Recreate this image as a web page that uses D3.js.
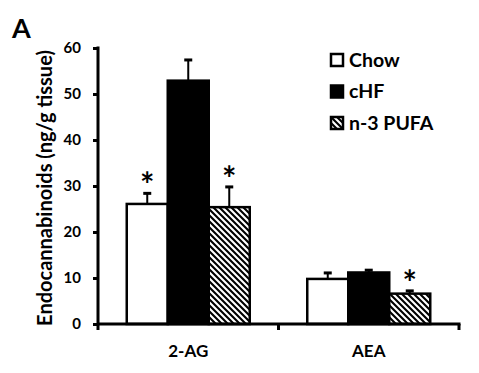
<!DOCTYPE html>
<html>
<head>
<meta charset="utf-8">
<script src="https://d3js.org/d3.v7.min.js"></script>
<style>
  body { margin: 0; background: white; }
  text { font-family: Lato, "Open Sans", sans-serif; font-weight: bold; fill: black; }
</style>
</head>
<body>
<svg id="chart" width="479" height="373"></svg>
<script>
// data
var categories = ["2-AG", "AEA"];
var groups = ["Chow", "cHF", "n-3 PUFA"];
var means = {
    "Chow":     [26.1, 9.8],
    "cHF":      [52.9, 11.2],
    "n-3 PUFA": [25.4, 6.6]
};
var errors = {
    "Chow":     [2.3, 1.3],
    "cHF":      [4.5, 0.5],
    "n-3 PUFA": [4.4, 0.6]
};
// significance stars (true = *)
var stars = {
    "Chow":     [true, false],
    "cHF":      [false, false],
    "n-3 PUFA": [true, true]
};
var yTicks = [0, 10, 20, 30, 40, 50, 60];

var svg = d3.select("#chart");

var mLeft = 98, mRight = 459, mTop = 48, mBottom = 324;

var y = d3.scaleLinear().domain([0, 60]).range([mBottom, mTop]);
var x0 = d3.scaleBand().domain(categories).range([mLeft, mRight]).padding(0);
var groupW = 123;
var x1 = d3.scaleBand().domain(groups)
    .range([(x0.bandwidth() - groupW) / 2, (x0.bandwidth() + groupW) / 2]);

// hatch pattern for n-3 PUFA ("\" stripes)
var defs = svg.append("defs");
var pat = defs.append("pattern")
    .attr("id", "hatch")
    .attr("patternUnits", "userSpaceOnUse")
    .attr("width", 6).attr("height", 6);
pat.append("rect").attr("width", 6).attr("height", 6).attr("fill", "white");
pat.append("path")
    .attr("d", "M-1,-1L7,7M-4,2L4,10M2,-4L10,4")
    .attr("stroke", "black").attr("stroke-width", 2.1);

function fillFor(g) {
    if (g == "Chow") return "white";
    if (g == "cHF") return "black";
    return "url(#hatch)";
}

// flatten into rows
var rows = [];
categories.forEach(function(c, i) {
    groups.forEach(function(g) {
        rows.push({cat: c, grp: g, v: means[g][i], e: errors[g][i], star: stars[g][i]});
    });
});

// error bars (upward only)
var eb = svg.append("g");
rows.forEach(function(d) {
    var cx = x0(d.cat) + x1(d.grp) + x1.bandwidth() / 2;
    eb.append("line")
        .attr("x1", cx).attr("x2", cx)
        .attr("y1", y(d.v)).attr("y2", y(d.v + d.e))
        .attr("stroke", "black").attr("stroke-width", 2);
    eb.append("line")
        .attr("x1", cx - 4).attr("x2", cx + 4)
        .attr("y1", y(d.v + d.e)).attr("y2", y(d.v + d.e))
        .attr("stroke", "black").attr("stroke-width", 3);
});

// bars
svg.append("g").selectAll("rect")
    .data(rows)
    .enter().append("rect")
    .attr("x", function(d) { return x0(d.cat) + x1(d.grp); })
    .attr("y", function(d) { return y(d.v); })
    .attr("width", x1.bandwidth())
    .attr("height", function(d) { return y(0) - y(d.v); })
    .attr("fill", function(d) { return fillFor(d.grp); })
    .attr("stroke", "black")
    .attr("stroke-width", 2.5);

// stars
svg.append("g").selectAll("text")
    .data(rows.filter(function(d) { return d.star; }))
    .enter().append("text")
    .attr("x", function(d) { return x0(d.cat) + x1(d.grp) + x1.bandwidth() / 2; })
    .attr("y", function(d) { return y(d.v + d.e) + 4; })
    .attr("text-anchor", "middle")
    .style("font-size", "34px")
    .text("*");

// y axis
var yAxis = svg.append("g")
    .attr("transform", "translate(" + mLeft + ",0)")
    .call(d3.axisLeft(y).tickValues(yTicks).tickSize(5).tickPadding(12));
yAxis.select(".domain").remove();
yAxis.append("line")
    .attr("x1", 0).attr("x2", 0).attr("y1", mTop - 1.5).attr("y2", mBottom + 6)
    .attr("stroke", "black").attr("stroke-width", 3);
yAxis.selectAll(".tick line").attr("stroke-width", 3);
yAxis.selectAll(".tick text")
    .style("font-size", "15px")
    .style("font-family", "Lato, sans-serif");

// x axis
var xAxis = svg.append("g")
    .attr("transform", "translate(0," + mBottom + ")");
xAxis.append("line")
    .attr("x1", mLeft).attr("x2", mRight + 1.5)
    .attr("stroke", "black").attr("stroke-width", 3);
xAxis.selectAll(".xt")
    .data(categories)
    .enter().append("line")
    .attr("x1", function(d) { return x0(d) + x0.bandwidth(); })
    .attr("x2", function(d) { return x0(d) + x0.bandwidth(); })
    .attr("y1", 0).attr("y2", 6)
    .attr("stroke", "black").attr("stroke-width", 3);
xAxis.selectAll(".xl")
    .data(categories)
    .enter().append("text")
    .attr("x", function(d) { return x0(d) + x0.bandwidth() / 2; })
    .attr("y", 33)
    .attr("text-anchor", "middle")
    .style("font-size", "17px")
    .text(function(d) { return d; });

// y label
svg.append("text")
    .attr("transform", "translate(52,188) rotate(-90)")
    .attr("text-anchor", "middle")
    .style("font-size", "20px")
    .text("Endocannabinoids (ng/g tissue)");

// panel letter
svg.append("text")
    .attr("x", 12).attr("y", 38)
    .style("font-size", "27px")
    .text("A");

// legend
var lg = svg.append("g").attr("transform", "translate(330,53)");
groups.forEach(function(g, i) {
    var row = lg.append("g").attr("transform", "translate(0," + (i * 31.5) + ")");
    row.append("rect")
        .attr("x", 1).attr("y", 1)
        .attr("width", 12).attr("height", 12)
        .attr("fill", fillFor(g))
        .attr("stroke", "black").attr("stroke-width", 2.5);
    row.append("text")
        .attr("x", 19).attr("y", 13.5)
        .style("font-size", "19.5px")
        .text(g);
});
</script>
</body>
</html>
